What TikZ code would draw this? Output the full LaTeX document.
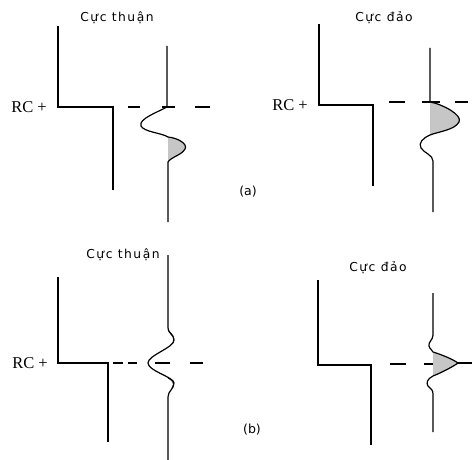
\documentclass[tikz,border=0pt]{standalone}
\usepackage{fontspec}
\newfontfamily\labfont[LetterSpace=12]{DejaVu Sans}
\newfontfamily\tagfont{DejaVu Sans}
\newfontfamily\rcfont{Liberation Serif}
\begin{document}
\begin{tikzpicture}[x=1pt,y=-1pt,
  stepline/.style={line width=1.5pt,line join=miter},
  trace/.style={line width=1.2pt},
  dashseg/.style={line width=1.3pt},
  shade/.style={fill=gray!45},
  title/.style={font=\labfont\fontsize{12.3}{14}\selectfont,inner sep=0pt},
  rc/.style={font=\rcfont\fontsize{16.5}{18}\selectfont,inner sep=0pt},
  tag/.style={font=\tagfont\fontsize{12.5}{14}\selectfont,inner sep=0pt}]
\useasboundingbox (0,0) rectangle (472,460);
\fill[white] (0,0) rectangle (472,460);

% ---------- (a) left ----------
\node[title] (ta1) at (117,18) {Cực thuận};
\node[rc] (rca1) at (29,107) {RC +};
\draw[stepline] (58,26) -- (58,107) -- (113,107) -- (113,190);
\draw[dashseg] (128,107) -- (140,107) (162,107) -- (175,107) (195,107) -- (210,107);
\fill[shade] (168,137) .. controls (178,138) and (188,144) .. (185,149) .. controls (182,155) and (171,157) .. (168,162) -- cycle;
\draw[trace] (167,46) -- (167,107) .. controls (158,112) and (138,119) .. (141,126) .. controls (144,132) and (162,133) .. (168,137)
  .. controls (178,138) and (188,144) .. (185,149) .. controls (182,155) and (171,157) .. (168,162) -- (168,222);

% ---------- (a) right ----------
\node[title] (ta2) at (384,18) {Cực đảo};
\node[rc] (rca2) at (290,105) {RC +};
\draw[stepline] (319,24) -- (319,105) -- (373,105) -- (373,186);
\draw[dashseg] (389,102) -- (405,102) (422,102) -- (440,102) (455,102) -- (468,102);
\fill[shade] (430,102) .. controls (442,104) and (463,115) .. (459,122) .. controls (455,130) and (437,132) .. (430,135) -- cycle;
\draw[trace] (430,48) -- (430,102) .. controls (442,104) and (463,115) .. (459,122) .. controls (455,130) and (437,132) .. (430,135)
  .. controls (423,138) and (418,143) .. (421,148) .. controls (424,153) and (433,155) .. (433,161) -- (433,212);
\node[tag] (la) at (248,192) {(a)};

% ---------- (b) left ----------
\node[title] (tb1) at (123,255) {Cực thuận};
\node[rc] (rcb1) at (30,363) {RC +};
\draw[stepline] (58,277) -- (58,363) -- (108,363) -- (108,442);
\draw[dashseg] (113,363) -- (123,363) (128,363) -- (137,363) (155,363) -- (170,363) (190,363) -- (203,363);
\draw[trace] (168,255) -- (168,328) .. controls (168,333) and (174,335) .. (174,340)
  .. controls (174,348) and (148,355) .. (148,363) .. controls (148,371) and (174,377) .. (174,383)
  .. controls (174,389) and (168,391) .. (168,397) -- (168,460);
\draw[line width=0.7pt] (168,330) .. controls (171,334) and (176,336) .. (173,343);
\draw[line width=0.7pt] (168,378) .. controls (171,380) and (176,383) .. (172,388);

% ---------- (b) right ----------
\node[title] (tb2) at (378,268) {Cực đảo};
\draw[stepline] (318,280) -- (318,365) -- (371,365) -- (371,445);
\draw[dashseg] (390,364) -- (406,364) (424,364) -- (433,364);
\fill[shade] (433,352) .. controls (443,355) and (454,360) .. (458,363) .. controls (454,366) and (443,372) .. (433,376) -- cycle;
\draw[trace] (433,293) -- (433,335) .. controls (433,340) and (428,342) .. (429,346) .. controls (430,350) and (433,350) .. (433,352)
  .. controls (443,355) and (454,360) .. (458,363) .. controls (454,366) and (443,372) .. (433,376)
  .. controls (427,379) and (426,383) .. (428,386) .. controls (431,389) and (433,390) .. (433,394) -- (433,432);
\draw[trace] (458,363) -- (472,363);
\node[tag] (lb) at (252,430) {(b)};
\end{tikzpicture}
\end{document}
